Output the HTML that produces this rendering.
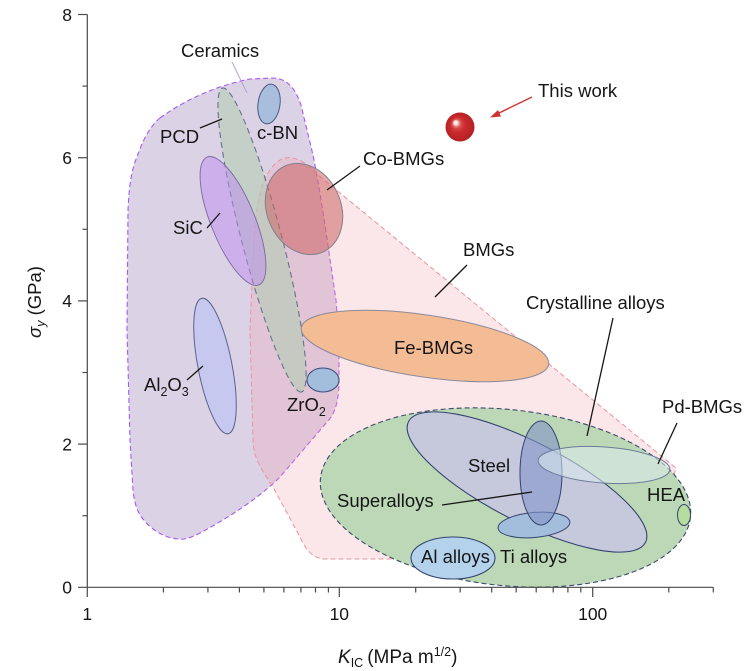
<!DOCTYPE html>
<html><head><meta charset="utf-8"><style>
html,body{margin:0;padding:0;background:#fff;}
svg{display:block;}
text{font-family:"Liberation Sans",Arial,sans-serif;fill:#161616;}
</style></head><body>
<svg width="752" height="671" viewBox="0 0 752 671" xmlns="http://www.w3.org/2000/svg">
<defs>
<radialGradient id="sph" cx="0.5" cy="0.5" r="0.5" fx="0.33" fy="0.33">
<stop offset="0" stop-color="#ffffff"/>
<stop offset="0.12" stop-color="#fbe3e3"/>
<stop offset="0.2" stop-color="#e9a0a0"/>
<stop offset="0.32" stop-color="#d84848"/>
<stop offset="0.55" stop-color="#c92a2c"/>
<stop offset="1" stop-color="#b42024"/>
</radialGradient>
</defs>

<!-- Ceramics region -->
<path d="M160,118 C185,100 215,86 250,79 L272,78 C288,78 296,90 301,105 L313,155 C322,200 330,260 336,300 L339,340 L339,385 C338,405 334,415 327,422 L280,477 C260,497 230,517 200,533 C190,538 184,540 178,539 C165,538 150,530 140,515 C136,508 134,500 133,490 L130,440 L127,330 L128,210 C129,185 132,168 137,157 C141,145 148,128 160,118 Z" fill="#dcd2e6" stroke="#a858f0" stroke-width="1.1" stroke-dasharray="5 3"/>

<!-- BMGs pink region -->
<path d="M253,260 C255,200 262,172 280,160 C292,153 308,163 318,175 L676,468 L660,525 L640,548 L400,559 L325,559 C312,559 305,548 300,537 L273,487 C262,470 253,458 253,440 L250,330 Z" fill="rgba(240,160,170,0.26)" stroke="#e8949c" stroke-width="1" stroke-dasharray="5 3"/>

<!-- PCD -->
<ellipse cx="262" cy="240" rx="157" ry="20" transform="rotate(75.4 262 240)" fill="rgba(180,205,180,0.6)" stroke="#657488" stroke-width="1.1" stroke-dasharray="6 4"/>
<!-- SiC -->
<ellipse cx="233" cy="221" rx="69" ry="22" transform="rotate(68 233 221)" fill="rgba(190,140,240,0.5)" stroke="#7a6aa0" stroke-width="0.9"/>
<!-- c-BN -->
<ellipse cx="269" cy="104" rx="11" ry="20" transform="rotate(8 269 104)" fill="#a8bedc" stroke="#4a5a80" stroke-width="1"/>
<!-- Al2O3 -->
<ellipse cx="215" cy="366" rx="69" ry="17" transform="rotate(79 215 366)" fill="#c6c8f0" stroke="#5a6488" stroke-width="1"/>
<!-- ZrO2 -->
<ellipse cx="323" cy="380" rx="16" ry="12" fill="#a3bddc" stroke="#3c4c78" stroke-width="1.1"/>
<!-- Co-BMGs -->
<ellipse cx="304" cy="209" rx="47" ry="37" transform="rotate(67 304 209)" fill="rgba(205,100,100,0.55)" stroke="#80808e" stroke-width="1"/>
<!-- Fe-BMGs -->
<ellipse cx="425" cy="346" rx="125" ry="31" transform="rotate(8.4 425 346)" fill="#f4bc94" stroke="#8a8a9a" stroke-width="1"/>

<!-- Crystalline alloys green -->
<ellipse cx="505.5" cy="497.5" rx="186" ry="88" transform="rotate(6 505.5 497.5)" fill="#bcd8b6" stroke="#3b4a6c" stroke-width="1.1" stroke-dasharray="5 3"/>
<!-- Superalloys -->
<ellipse cx="527" cy="482" rx="133" ry="40" transform="rotate(27 527 482)" fill="#c6c8dc" stroke="#34446e" stroke-width="1.1"/>
<!-- Ti alloys -->
<ellipse cx="534" cy="525" rx="36" ry="12.5" transform="rotate(-5 534 525)" fill="#a3bedc" stroke="#34446e" stroke-width="1"/>
<!-- Steel -->
<ellipse cx="541" cy="473" rx="21" ry="52" fill="rgba(130,148,200,0.6)" stroke="#34446e" stroke-width="1"/>
<!-- Pd-BMGs -->
<ellipse cx="604" cy="465" rx="66" ry="18" transform="rotate(4 604 465)" fill="rgba(220,236,238,0.55)" stroke="#6c7c9a" stroke-width="1"/>
<!-- Al alloys -->
<ellipse cx="453" cy="558" rx="42" ry="21" fill="#b4d2ec" stroke="#34446e" stroke-width="1.1"/>
<!-- HEA -->
<ellipse cx="684" cy="515" rx="6.5" ry="10.5" fill="#b6dc9e" stroke="#34446e" stroke-width="1"/>

<!-- This work sphere and arrow -->
<circle cx="460" cy="127" r="14.5" fill="url(#sph)"/>
<line x1="532" y1="97" x2="497" y2="114" stroke="#d03232" stroke-width="1.4"/>
<path d="M490,117.5 L498,110 L501,116.5 Z" fill="#d03232"/>

<!-- leader lines -->
<g stroke="#161616" stroke-width="1.3" fill="none">
<line x1="200" y1="128" x2="222" y2="119"/>
<line x1="327" y1="190" x2="360" y2="166"/>
<line x1="207" y1="228" x2="220" y2="213"/>
<line x1="435" y1="297" x2="467" y2="265"/>
<line x1="613" y1="318" x2="587" y2="436"/>
<line x1="187" y1="380" x2="203" y2="366"/>
<line x1="677" y1="423" x2="658" y2="464"/>
<line x1="442" y1="505" x2="532" y2="492"/>
</g>
<line x1="232" y1="62" x2="247" y2="93" stroke="#b8a2d4" stroke-width="1"/>

<!-- axes -->
<g stroke="#4a4a4a" stroke-width="1.2" fill="none">
<line x1="87.3" y1="14.5" x2="87.3" y2="597"/>
<line x1="78" y1="587.3" x2="713.3" y2="587.3"/>
<line x1="78" y1="14.5" x2="87.3" y2="14.5"/>
<line x1="78" y1="157.7" x2="87.3" y2="157.7"/>
<line x1="78" y1="300.9" x2="87.3" y2="300.9"/>
<line x1="78" y1="444.1" x2="87.3" y2="444.1"/>
<line x1="82.5" y1="86.1" x2="87.3" y2="86.1"/>
<line x1="82.5" y1="229.3" x2="87.3" y2="229.3"/>
<line x1="82.5" y1="372.5" x2="87.3" y2="372.5"/>
<line x1="82.5" y1="515.7" x2="87.3" y2="515.7"/>
<line x1="339.3" y1="587.3" x2="339.3" y2="597"/>
<line x1="592.7" y1="587.3" x2="592.7" y2="597"/>
<line x1="163.4" y1="587.3" x2="163.4" y2="592.5"/>
<line x1="207.9" y1="587.3" x2="207.9" y2="592.5"/>
<line x1="239.4" y1="587.3" x2="239.4" y2="592.5"/>
<line x1="263.9" y1="587.3" x2="263.9" y2="592.5"/>
<line x1="283.9" y1="587.3" x2="283.9" y2="592.5"/>
<line x1="300.9" y1="587.3" x2="300.9" y2="592.5"/>
<line x1="315.5" y1="587.3" x2="315.5" y2="592.5"/>
<line x1="328.4" y1="587.3" x2="328.4" y2="592.5"/>
<line x1="415.7" y1="587.3" x2="415.7" y2="592.5"/>
<line x1="460.2" y1="587.3" x2="460.2" y2="592.5"/>
<line x1="491.7" y1="587.3" x2="491.7" y2="592.5"/>
<line x1="516.2" y1="587.3" x2="516.2" y2="592.5"/>
<line x1="536.2" y1="587.3" x2="536.2" y2="592.5"/>
<line x1="553.2" y1="587.3" x2="553.2" y2="592.5"/>
<line x1="567.9" y1="587.3" x2="567.9" y2="592.5"/>
<line x1="580.8" y1="587.3" x2="580.8" y2="592.5"/>
<line x1="668.8" y1="587.3" x2="668.8" y2="592.5"/>
<line x1="713.3" y1="587.3" x2="713.3" y2="592.5"/>
</g>

<!-- tick labels -->
<g font-size="17.5" text-anchor="end">
<text x="72" y="20.8">8</text>
<text x="72" y="164">6</text>
<text x="72" y="307.2">4</text>
<text x="72" y="450.4">2</text>
<text x="72" y="593.6">0</text>
</g>
<g font-size="17.5" text-anchor="middle">
<text x="87.3" y="620">1</text>
<text x="339.3" y="620">10</text>
<text x="592.7" y="620">100</text>
</g>

<!-- axis titles -->
<text x="338" y="663" font-size="19"><tspan font-style="italic">K</tspan><tspan font-size="12.5" dy="4">IC</tspan><tspan dy="-4" dx="4">(MPa m</tspan><tspan font-size="12.5" dy="-7">1/2</tspan><tspan dy="7">)</tspan></text>
<text transform="translate(41,302) rotate(-90)" text-anchor="middle" font-size="18.5"><tspan font-style="italic">σ</tspan><tspan font-size="12.5" font-style="italic" dy="4">y</tspan><tspan dy="-4"> (GPa)</tspan></text>

<!-- labels -->
<g font-size="18.5">
<text x="181" y="57">Ceramics</text>
<text x="160" y="143">PCD</text>
<text x="257" y="139">c-BN</text>
<text x="363" y="165">Co-BMGs</text>
<text x="173" y="234">SiC</text>
<text x="538" y="97">This work</text>
<text x="463" y="256">BMGs</text>
<text x="526" y="309">Crystalline alloys</text>
<text x="394" y="354">Fe-BMGs</text>
<text x="144" y="391">Al<tspan font-size="12.5" dy="5">2</tspan><tspan dy="-5">O</tspan><tspan font-size="12.5" dy="5">3</tspan></text>
<text x="287" y="411">ZrO<tspan font-size="12.5" dy="5">2</tspan></text>
<text x="662" y="413">Pd-BMGs</text>
<text x="468" y="472">Steel</text>
<text x="647" y="501">HEA</text>
<text x="337" y="507">Superalloys</text>
<text x="421" y="563">Al alloys</text>
<text x="500" y="563">Ti alloys</text>
</g>
</svg>
</body></html>
